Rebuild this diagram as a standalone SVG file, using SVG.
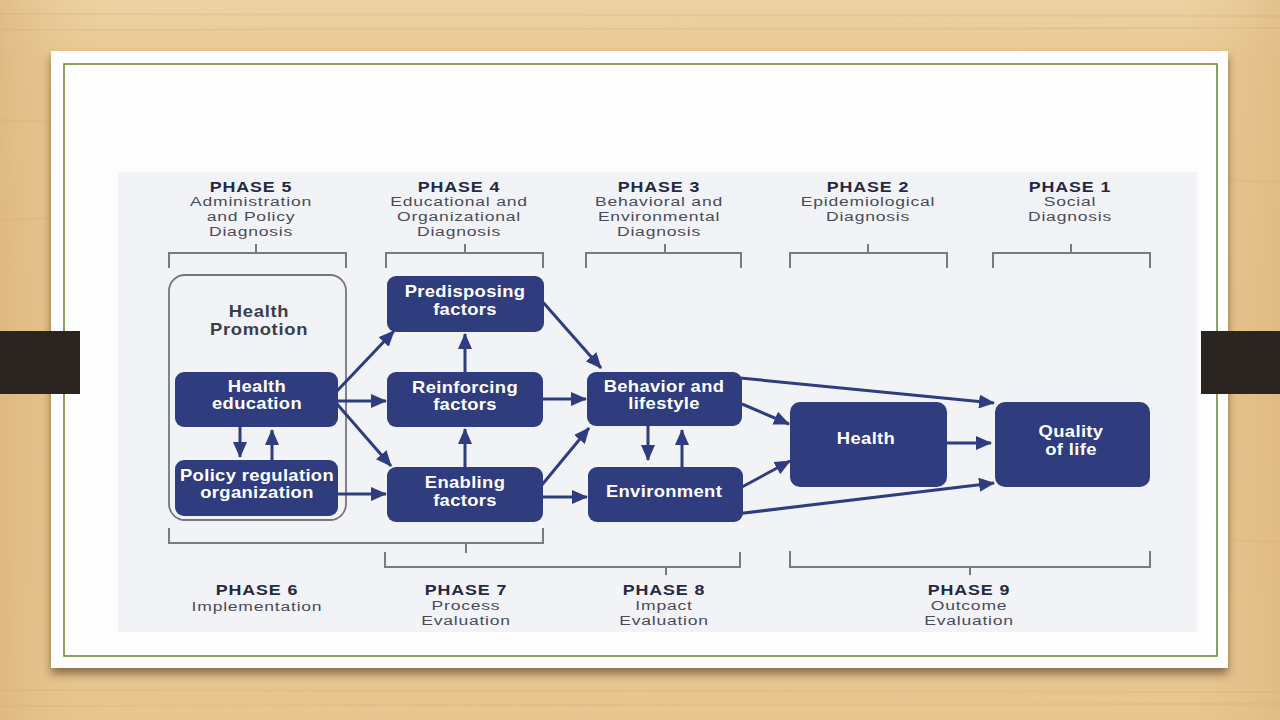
<svg xmlns="http://www.w3.org/2000/svg" width="1280" height="720" viewBox="0 0 1280 720">
  <defs>
    <linearGradient id="wood" x1="0" y1="0" x2="0" y2="1">
      <stop offset="0" stop-color="#ecd2a2"/>
      <stop offset="0.08" stop-color="#e9c995"/>
      <stop offset="0.5" stop-color="#e6c38c"/>
      <stop offset="1" stop-color="#e8c690"/>
    </linearGradient>
    <linearGradient id="woodside" x1="0" y1="0" x2="1" y2="0">
      <stop offset="0" stop-color="#d9b079" stop-opacity="0.6"/>
      <stop offset="0.08" stop-color="#e6c38c" stop-opacity="0"/>
      <stop offset="0.92" stop-color="#e6c38c" stop-opacity="0"/>
      <stop offset="1" stop-color="#d9b079" stop-opacity="0.5"/>
    </linearGradient>
    <filter id="shadow" x="-5%" y="-5%" width="110%" height="115%">
      <feDropShadow dx="0" dy="6" stdDeviation="4" flood-color="#3a2a18" flood-opacity="0.55"/>
    </filter>
    <marker id="ah" markerUnits="userSpaceOnUse" markerWidth="16" markerHeight="14" refX="15" refY="7" orient="auto">
      <path d="M0,0 L16,7 L0,14 z" fill="#2f3c7e"/>
    </marker>
    <style>
      .node { fill: #2f3c7e; }
      .ntext { font-family: "Liberation Sans", Arial, sans-serif; font-size: 16px; font-weight: bold; fill: #ffffff; text-anchor: middle; letter-spacing: 0.3px; }
      .phase { font-family: "Liberation Sans", Arial, sans-serif; font-size: 15.5px; font-weight: bold; fill: #262840; text-anchor: middle; letter-spacing: 0.8px; }
      .desc { font-family: "Liberation Sans", Arial, sans-serif; font-size: 13.5px; fill: #4a4b58; text-anchor: middle; letter-spacing: 0.6px; }
      .hp { font-family: "Liberation Sans", Arial, sans-serif; font-size: 16px; font-weight: bold; fill: #3b3d4c; text-anchor: middle; letter-spacing: 0.6px; }
      .brk { fill: none; stroke: #7a7b82; stroke-width: 2; }
      .conn { fill: none; stroke: #2f3c7e; stroke-width: 3; marker-end: url(#ah); }
    </style>
  </defs>

  <!-- background -->
  <rect x="0" y="0" width="1280" height="720" fill="url(#wood)"/>
  <rect x="0" y="0" width="1280" height="720" fill="url(#woodside)"/>
  <g stroke="#d4ad74" stroke-opacity="0.25" stroke-width="2">
    <line x1="0" y1="14" x2="1280" y2="16"/>
    <line x1="0" y1="30" x2="1280" y2="28"/>
    <line x1="0" y1="120" x2="60" y2="122"/>
    <line x1="0" y1="220" x2="60" y2="218"/>
    <line x1="1220" y1="180" x2="1280" y2="182"/>
    <line x1="1220" y1="540" x2="1280" y2="542"/>
    <line x1="0" y1="690" x2="1280" y2="692"/>
    <line x1="0" y1="706" x2="1280" y2="704"/>
  </g>

  <!-- card -->
  <rect x="51" y="51" width="1177" height="617" fill="#fdfdfd" filter="url(#shadow)"/>
  <rect x="64" y="64" width="1153" height="592" fill="none" stroke="#6f8a3a" stroke-width="1.6"/>

  <!-- dark side bars (on top of card edges) -->
  <rect x="0" y="331" width="80" height="63" fill="#2b2521"/>
  <rect x="1201" y="331" width="79" height="63" fill="#2b2521"/>

  <!-- diagram panel -->
  <rect x="118" y="172" width="1079" height="460" fill="#f2f3f7"/>

  <!-- top phase labels -->
  <g id="phase5">
    <g transform="translate(251 0) scale(1.15 1)"><text class="phase" x="0" y="192">PHASE 5</text></g>
    <g transform="translate(251 0) scale(1.3 1)">
      <text class="desc" x="0" y="206">Administration</text>
      <text class="desc" x="0" y="221">and Policy</text>
      <text class="desc" x="0" y="236">Diagnosis</text>
    </g>
    <path class="brk" d="M169,268 V253 H346 V268 M256,253 V244"/>
  </g>
  <g id="phase4">
    <g transform="translate(459 0) scale(1.15 1)"><text class="phase" x="0" y="192">PHASE 4</text></g>
    <g transform="translate(459 0) scale(1.3 1)">
      <text class="desc" x="0" y="206">Educational and</text>
      <text class="desc" x="0" y="221">Organizational</text>
      <text class="desc" x="0" y="236">Diagnosis</text>
    </g>
    <path class="brk" d="M386,268 V253 H543 V268 M465,253 V244"/>
  </g>
  <g id="phase3">
    <g transform="translate(659 0) scale(1.15 1)"><text class="phase" x="0" y="192">PHASE 3</text></g>
    <g transform="translate(659 0) scale(1.3 1)">
      <text class="desc" x="0" y="206">Behavioral and</text>
      <text class="desc" x="0" y="221">Environmental</text>
      <text class="desc" x="0" y="236">Diagnosis</text>
    </g>
    <path class="brk" d="M586,268 V253 H741 V268 M665,253 V244"/>
  </g>
  <g id="phase2">
    <g transform="translate(868 0) scale(1.15 1)"><text class="phase" x="0" y="192">PHASE 2</text></g>
    <g transform="translate(868 0) scale(1.3 1)">
      <text class="desc" x="0" y="206">Epidemiological</text>
      <text class="desc" x="0" y="221">Diagnosis</text>
    </g>
    <path class="brk" d="M790,268 V253 H947 V268 M868,253 V244"/>
  </g>
  <g id="phase1">
    <g transform="translate(1070 0) scale(1.15 1)"><text class="phase" x="0" y="192">PHASE 1</text></g>
    <g transform="translate(1070 0) scale(1.3 1)">
      <text class="desc" x="0" y="206">Social</text>
      <text class="desc" x="0" y="221">Diagnosis</text>
    </g>
    <path class="brk" d="M993,268 V253 H1150 V268 M1071,253 V244"/>
  </g>

  <!-- bottom phase labels -->
  <g id="phase6">
    <path class="brk" d="M169,528 V543 H543 V528 M466,543 V553"/>
    <g transform="translate(257 0) scale(1.15 1)"><text class="phase" x="0" y="595">PHASE 6</text></g>
    <g transform="translate(257 0) scale(1.3 1)"><text class="desc" x="0" y="611">Implementation</text></g>
  </g>
  <g id="phase7-8-bracket">
    <path class="brk" d="M385,552 V567 H740 V552 M666,567 V575"/>
  </g>
  <g id="phase7">
    <g transform="translate(466 0) scale(1.15 1)"><text class="phase" x="0" y="595">PHASE 7</text></g>
    <g transform="translate(466 0) scale(1.3 1)">
      <text class="desc" x="0" y="610">Process</text>
      <text class="desc" x="0" y="625">Evaluation</text>
    </g>
  </g>
  <g id="phase8">
    <g transform="translate(664 0) scale(1.15 1)"><text class="phase" x="0" y="595">PHASE 8</text></g>
    <g transform="translate(664 0) scale(1.3 1)">
      <text class="desc" x="0" y="610">Impact</text>
      <text class="desc" x="0" y="625">Evaluation</text>
    </g>
  </g>
  <g id="phase9">
    <path class="brk" d="M790,551 V567 H1150 V551 M970,567 V575"/>
    <g transform="translate(969 0) scale(1.15 1)"><text class="phase" x="0" y="595">PHASE 9</text></g>
    <g transform="translate(969 0) scale(1.3 1)">
      <text class="desc" x="0" y="610">Outcome</text>
      <text class="desc" x="0" y="625">Evaluation</text>
    </g>
  </g>

  <!-- nodes -->
  <g id="n-health-promotion">
    <rect x="169" y="275" width="177" height="245" rx="16" fill="none" stroke="#76777e" stroke-width="1.8"/>
    <g transform="translate(259 0) scale(1.15 1)">
      <text class="hp" x="0" y="317">Health</text>
      <text class="hp" x="0" y="335">Promotion</text>
    </g>
  </g>
  <g id="n-health-education">
    <rect class="node" x="175" y="372" width="163" height="55" rx="9"/>
    <g transform="translate(257 0) scale(1.15 1)">
      <text class="ntext" x="0" y="392">Health</text>
      <text class="ntext" x="0" y="409">education</text>
    </g>
  </g>
  <g id="n-policy">
    <rect class="node" x="175" y="460" width="163" height="56" rx="9"/>
    <g transform="translate(257 0) scale(1.15 1)">
      <text class="ntext" x="0" y="481">Policy regulation</text>
      <text class="ntext" x="0" y="498">organization</text>
    </g>
  </g>
  <g id="n-predisposing">
    <rect class="node" x="387" y="276" width="157" height="56" rx="9"/>
    <g transform="translate(465 0) scale(1.15 1)">
      <text class="ntext" x="0" y="297">Predisposing</text>
      <text class="ntext" x="0" y="315">factors</text>
    </g>
  </g>
  <g id="n-reinforcing">
    <rect class="node" x="387" y="372" width="156" height="55" rx="9"/>
    <g transform="translate(465 0) scale(1.15 1)">
      <text class="ntext" x="0" y="393">Reinforcing</text>
      <text class="ntext" x="0" y="410">factors</text>
    </g>
  </g>
  <g id="n-enabling">
    <rect class="node" x="387" y="467" width="156" height="55" rx="9"/>
    <g transform="translate(465 0) scale(1.15 1)">
      <text class="ntext" x="0" y="488">Enabling</text>
      <text class="ntext" x="0" y="506">factors</text>
    </g>
  </g>
  <g id="n-behavior">
    <rect class="node" x="587" y="372" width="155" height="54" rx="9"/>
    <g transform="translate(664 0) scale(1.15 1)">
      <text class="ntext" x="0" y="392">Behavior and</text>
      <text class="ntext" x="0" y="409">lifestyle</text>
    </g>
  </g>
  <g id="n-environment">
    <rect class="node" x="588" y="467" width="155" height="55" rx="9"/>
    <g transform="translate(664 0) scale(1.15 1)">
      <text class="ntext" x="0" y="497">Environment</text>
    </g>
  </g>
  <g id="n-health">
    <rect class="node" x="790" y="402" width="157" height="85" rx="10"/>
    <g transform="translate(866 0) scale(1.15 1)">
      <text class="ntext" x="0" y="444">Health</text>
    </g>
  </g>
  <g id="n-quality">
    <rect class="node" x="995" y="402" width="155" height="85" rx="10"/>
    <g transform="translate(1071 0) scale(1.15 1)">
      <text class="ntext" x="0" y="437">Quality</text>
      <text class="ntext" x="0" y="455">of life</text>
    </g>
  </g>

  <!-- connectors -->
  <g id="connectors">
    <path class="conn" d="M337,391 L394,331"/>
    <path class="conn" d="M338,401 L386,401"/>
    <path class="conn" d="M337,404 L391,466"/>
    <path class="conn" d="M240,427 L240,457"/>
    <path class="conn" d="M272,460 L272,430"/>
    <path class="conn" d="M338,494 L386,494"/>
    <path class="conn" d="M465,372 L465,334"/>
    <path class="conn" d="M465,467 L465,429"/>
    <path class="conn" d="M541,300 L601,368"/>
    <path class="conn" d="M543,399 L586,399"/>
    <path class="conn" d="M541,486 L589,428"/>
    <path class="conn" d="M543,497 L587,497"/>
    <path class="conn" d="M648,426 L648,460"/>
    <path class="conn" d="M682,467 L682,430"/>
    <path class="conn" d="M740,378 L994,403"/>
    <path class="conn" d="M742,404 L789,424"/>
    <path class="conn" d="M742,487 L790,461"/>
    <path class="conn" d="M736,514 L994,483"/>
    <path class="conn" d="M947,443 L991,443"/>
  </g>
</svg>
